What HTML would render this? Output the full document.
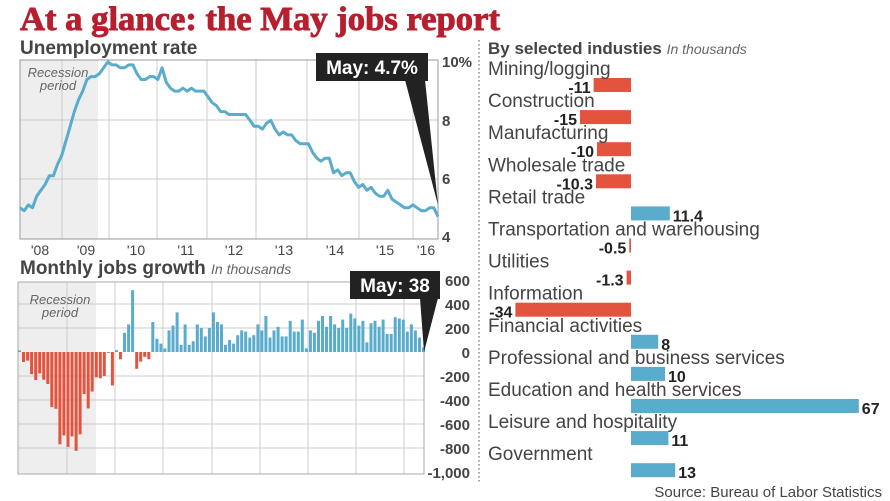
<!DOCTYPE html>
<html><head><meta charset="utf-8"><style>
html,body{margin:0;padding:0;background:#fff;width:890px;height:501px;overflow:hidden}
svg{display:block;font-family:"Liberation Sans",sans-serif}
</style></head><body>
<svg id="s" width="890" height="501" viewBox="0 0 890 501" xmlns="http://www.w3.org/2000/svg">
<text x="20" y="30" font-family="Liberation Serif,serif" font-weight="bold" font-size="34" fill="#b71f2e" stroke="#b71f2e" stroke-width="0.9" textLength="480" lengthAdjust="spacingAndGlyphs">At a glance: the May jobs report</text>
<text x="20" y="54" font-size="19" font-weight="bold" fill="#444">Unemployment rate</text>
<text x="20" y="274" font-size="19" font-weight="bold" fill="#444">Monthly jobs growth <tspan font-size="14" font-weight="normal" font-style="italic" fill="#666">In thousands</tspan></text>
<line x1="479" y1="40" x2="479" y2="482" stroke="#555" stroke-dasharray="1.5,2.5" stroke-width="1"/>
<g id="u"></g><g id="j"></g><g id="r"></g>
<text x="882" y="497" font-size="15" fill="#444" text-anchor="end">Source: Bureau of Labor Statistics</text>
</svg>
<script>
const NS="http://www.w3.org/2000/svg";
function el(p,t,a,txt){const e=document.createElementNS(NS,t);for(const k in a)e.setAttribute(k,a[k]);if(txt!==undefined)e.textContent=txt;p.appendChild(e);return e;}
const u=document.getElementById('u');
el(u,'rect',{x:20,y:60,width:78,height:179,fill:'#eeeeee'});
[62,109,157,207,256,307,359,413].forEach(x=>el(u,'line',{x1:x,y1:60,x2:x,y2:239,stroke:'#ccc'}));
[120,179].forEach(y=>el(u,'line',{x1:20,y1:y,x2:438,y2:y,stroke:'#ccc'}));
el(u,'rect',{x:20,y:60,width:418,height:179,fill:'none',stroke:'#999'});
const U=[5.0,4.9,5.1,5.0,5.4,5.6,5.8,6.1,6.1,6.5,6.8,7.3,7.8,8.3,8.7,9.0,9.4,9.5,9.5,9.6,9.8,10.0,9.9,9.9,9.8,9.8,9.9,9.9,9.6,9.4,9.4,9.5,9.5,9.4,9.8,9.3,9.1,9.0,9.0,9.1,9.0,9.1,9.0,9.0,9.0,8.8,8.6,8.5,8.3,8.3,8.2,8.2,8.2,8.2,8.2,8.0,7.8,7.8,7.7,7.9,8.0,7.7,7.5,7.6,7.5,7.5,7.3,7.2,7.2,7.2,6.9,6.7,6.6,6.7,6.7,6.2,6.3,6.1,6.2,6.2,5.9,5.7,5.8,5.6,5.7,5.5,5.4,5.4,5.6,5.3,5.2,5.1,5.0,5.0,5.1,5.0,4.9,4.9,5.0,5.0,4.7];
el(u,'polyline',{points:U.map((v,i)=>(20+i*418/100).toFixed(1)+','+(237-(v-4)*29.17).toFixed(1)).join(' '),fill:'none',stroke:'#5aaccc','stroke-width':3,'stroke-linejoin':'round'});
el(u,'text',{x:58,y:77,'font-size':13,'font-style':'italic',fill:'#666','text-anchor':'middle'},'Recession');
el(u,'text',{x:58,y:90,'font-size':13,'font-style':'italic',fill:'#666','text-anchor':'middle'},'period');
[['10%',67],['8',126],['6',184],['4',242]].forEach(a=>el(u,'text',{x:442,y:a[1],'font-size':15,'font-weight':'bold',fill:'#444'},a[0]));
[["'08",40],["'09",86],["'10",136],["'11",186],["'12",234],["'13",284],["'14",335],["'15",385],["'16",426]].forEach(a=>el(u,'text',{x:a[1],y:255,'font-size':14,fill:'#444','text-anchor':'middle'},a[0]));
el(u,'polygon',{points:'405,80 425,80 438,205',fill:'#222'});
el(u,'rect',{x:316,y:53,width:112,height:28,fill:'#222'});
el(u,'text',{x:372,y:74,'font-size':19,'font-weight':'bold',fill:'#fff','text-anchor':'middle'},'May: 4.7%');
const j=document.getElementById('j');
el(j,'rect',{x:18,y:282,width:78,height:192,fill:'#eeeeee'});
[67,115,163,212,260,308,356,404].forEach(x=>el(j,'line',{x1:x,y1:282,x2:x,y2:474,stroke:'#ccc'}));
[304,328,376,400,424,448].forEach(y=>el(j,'line',{x1:18,y1:y,x2:424,y2:y,stroke:'#ccc'}));
el(j,'rect',{x:18,y:282,width:406,height:192,fill:'none',stroke:'#aaa'});
const J=[13,-83,-72,-185,-233,-178,-231,-267,-459,-473,-769,-695,-791,-703,-823,-686,-351,-470,-329,-212,-219,-200,-7,-279,15,-60,160,230,515,-140,-80,-40,-60,250,110,70,30,180,220,330,60,230,60,90,230,200,130,200,330,250,230,60,100,70,140,180,170,120,140,230,180,300,120,180,210,130,130,260,170,170,270,30,180,160,260,300,210,300,230,200,270,200,320,280,220,260,80,240,260,210,270,150,150,290,280,270,170,230,180,120,38];
J.forEach((v,i)=>{const x=18+i*4.04,h=Math.abs(v)*0.12;el(j,'rect',{x:x.toFixed(1),y:(v>=0?352-h:352).toFixed(1),width:3,height:Math.max(h,0.8).toFixed(1),fill:v>=0?'#5aaccc':'#e4533d'});});
el(j,'text',{x:60,y:304,'font-size':13,'font-style':'italic',fill:'#666','text-anchor':'middle'},'Recession');
el(j,'text',{x:60,y:317,'font-size':13,'font-style':'italic',fill:'#666','text-anchor':'middle'},'period');
[['600',286],['400',310],['200',334],['0',358],['-200',382],['-400',406],['-600',430],['-800',454],['-1,000',478]].forEach(a=>el(j,'text',{x:470,y:a[1],'font-size':15,'font-weight':'bold',fill:'#444','text-anchor':'end'},a[0]));
el(j,'polygon',{points:'420,298 438,298 424,352',fill:'#222'});
el(j,'rect',{x:350,y:271,width:90,height:28,fill:'#222'});
el(j,'text',{x:395,y:292,'font-size':19,'font-weight':'bold',fill:'#fff','text-anchor':'middle'},'May: 38');
const r=document.getElementById('r');
el(r,'text',{x:488,y:54,'font-size':17,'font-weight':'bold',fill:'#444'}).innerHTML='By selected industies <tspan font-size="14" font-weight="normal" font-style="italic" fill="#666">In thousands</tspan>';
const R=[['Mining/logging',-11,'-11'],['Construction',-15,'-15'],['Manufacturing',-10,'-10'],['Wholesale trade',-10.3,'-10.3'],['Retail trade',11.4,'11.4'],['Transportation and warehousing',-0.5,'-0.5'],['Utilities',-1.3,'-1.3'],['Information',-34,'-34'],['Financial activities',8,'8'],['Professional and business services',10,'10'],['Education and health services',67,'67'],['Leisure and hospitality',11,'11'],['Government',13,'13']];
R.forEach((a,i)=>{const y=78+i*32.1,w=Math.abs(a[1])*3.4,x=a[1]>=0?631:631-w;
el(r,'rect',{x:x.toFixed(1),y:y.toFixed(1),width:Math.max(w,1.7).toFixed(1),height:14,fill:a[1]>=0?'#5aaccc':'#e4533d'});
el(r,'text',{x:488,y:(y-3).toFixed(1),'font-size':19,fill:'#444'},a[0]);
el(r,'text',{x:a[1]>=0?(x+w+3):(x-3),y:(y+15).toFixed(1),'font-size':16,'font-weight':'bold',fill:'#222','text-anchor':a[1]>=0?'start':'end'},a[2]);});
</script>
</body></html>
